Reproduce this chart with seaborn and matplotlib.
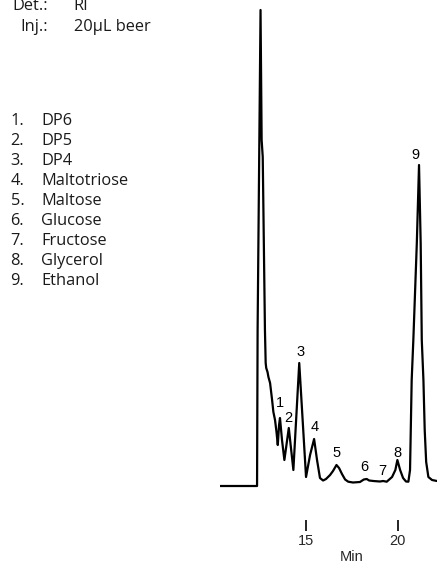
import matplotlib
matplotlib.use("Agg")
import matplotlib.pyplot as plt
import matplotlib.transforms as mtransforms
import seaborn as sns
import pandas as pd

# ---- data ----
time_min = [10.31, 12.33, 12.36, 12.52, 12.58, 12.64, 12.76, 12.80, 12.83, 12.90,
            12.95, 13.04, 13.15, 13.22, 13.31, 13.39, 13.46, 13.53, 13.58, 13.69,
            13.82, 14.06, 14.31, 14.63, 15.00, 15.22, 15.44, 15.60, 15.76, 15.93,
            16.09, 16.31, 16.47, 16.66, 16.80, 16.96, 17.13, 17.30, 17.56, 17.94,
            18.15, 18.31, 18.44, 18.67, 19.03, 19.20, 19.40, 19.69, 19.87, 19.98,
            20.13, 20.29, 20.45, 20.58, 20.67, 20.76, 20.85, 21.04, 21.16, 21.25,
            21.31, 21.40, 21.47, 21.55, 21.67, 21.87, 22.14]
signal = [0, 0, 156, 476, 346, 329, 156, 123, 118, 114,
          109, 103, 86, 74, 66, 54, 41, 61, 68, 46,
          26, 58, 16, 123, 9, 31, 47, 26, 8, 5.5,
          7, 11, 15, 21, 18, 12, 6.5, 4.3, 3.5, 4,
          6.5, 7, 5.5, 5, 4.5, 5, 4.3, 9, 16, 26,
          16, 8, 4.5, 4.3, 16, 106, 146, 243, 321, 243,
          146, 106, 56, 24, 9, 6, 5]

peak_ids = ["1", "2", "3", "4", "5", "6", "7", "8", "9"]
label_time = [13.56, 14.01, 14.72, 15.49, 16.64, 18.18, 19.17, 19.96, 20.98]
label_height = [83, 68, 134, 59, 33, 19, 15, 33, 331]

compounds = ["DP6", "DP5", "DP4", "Maltotriose", "Maltose", "Glucose",
             "Fructose", "Glycerol", "Ethanol"]
header_keys = ["Det.:", "Inj.:"]
header_vals = ["RI", "20\u00b5L beer"]
x_ticks = [15, 20]
x_label = "Min"

# ---- figure ----
W, H = 437, 564
sns.set_style("white")
fig = plt.figure(figsize=(W / 100, H / 100), dpi=100)

def px(x, y):
    return x / W, 1 - y / H

ax_left, ax_right, ax_top, ax_bottom = 220, 437, 0, 520
ax = fig.add_axes([ax_left / W, 1 - ax_bottom / H,
                   (ax_right - ax_left) / W, (ax_bottom - ax_top) / H])

df = pd.DataFrame({"t": time_min, "s": signal})
sns.lineplot(data=df, x="t", y="s", ax=ax, color="black", lw=1.6,
             estimator=None, sort=False)

ax.set_xlim(10.31, 22.14)
ax.set_ylim(-34, 486)
for sp in ax.spines.values():
    sp.set_visible(False)
ax.set_yticks([])
ax.set_xticks(x_ticks)
ax.set_xticklabels([str(v) for v in x_ticks], fontfamily="Liberation Sans",
                   fontsize=10.5)
ax.tick_params(axis="x", bottom=True, direction="out", length=7.8, width=1.2,
               color="black", pad=2.5)
ax.set_xlabel("")
ax.set_ylabel("")

trans = mtransforms.blended_transform_factory(ax.transData, fig.transFigure)
ax.text(sum(x_ticks) / 2, 1 - 557 / H, x_label, transform=trans,
        ha="center", va="center", fontfamily="Liberation Sans", fontsize=10.5)

for pid, lt, lh in zip(peak_ids, label_time, label_height):
    ax.text(lt, lh, pid, ha="center", va="center",
            fontfamily="Liberation Sans", fontsize=10.5, color="black")

# header text
tc = "#1a1a1a"
for i, (k, v) in enumerate(zip(header_keys, header_vals)):
    base = 10 + 21 * i
    kx = 12.0 if i == 0 else 20.5
    fig.text(*px(kx, base), k, ha="left", va="baseline",
             fontfamily="Open Sans", fontsize=11.8, color=tc)
    fig.text(*px(73.5, base), v, ha="left", va="baseline",
             fontfamily="Open Sans", fontsize=11.8, color=tc)

# compound list
for i, name in enumerate(compounds):
    base = 125 + 20 * i
    fig.text(*px(10.5, base), f"{i + 1}.", ha="left", va="baseline",
             fontfamily="Open Sans", fontsize=11.8, color=tc)
    fig.text(*px(41.5, base), name, ha="left", va="baseline",
             fontfamily="Open Sans", fontsize=11.8, color=tc)

fig.savefig("out.png", dpi=100)
